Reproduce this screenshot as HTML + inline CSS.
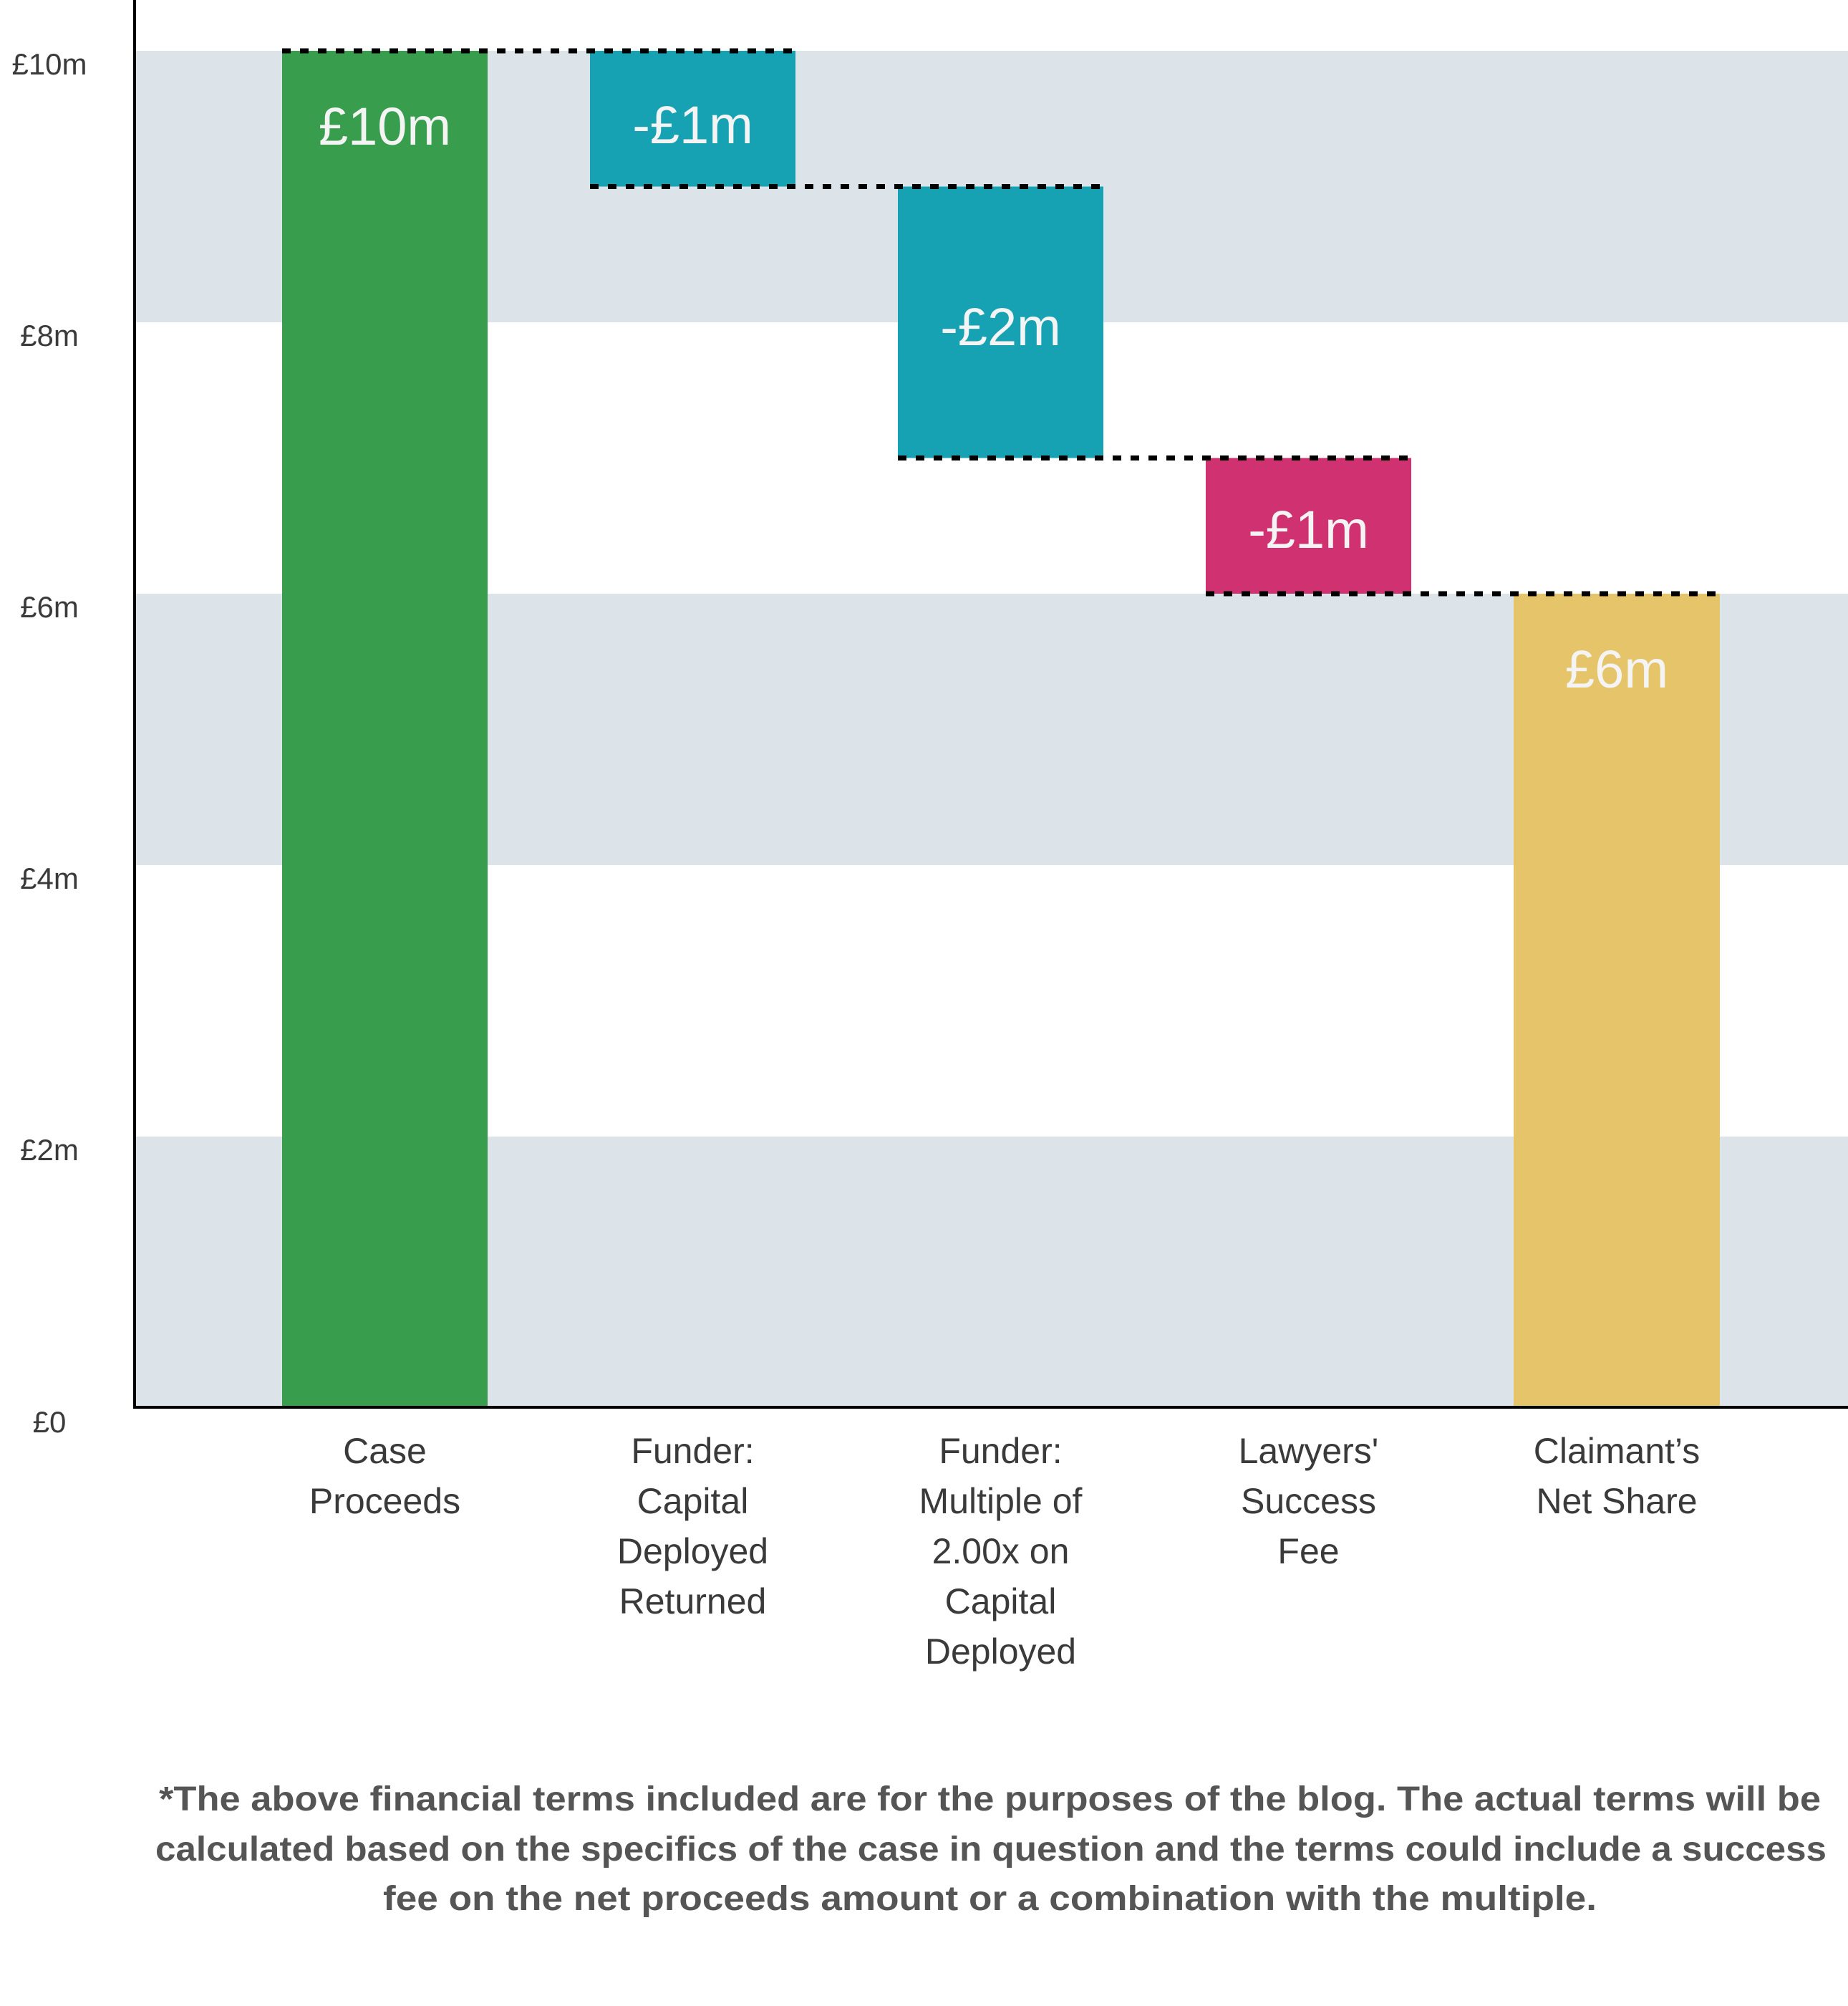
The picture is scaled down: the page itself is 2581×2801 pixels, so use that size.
<!DOCTYPE html>
<html><head><meta charset="utf-8"><style>
html,body{margin:0;padding:0;background:#fff;}
svg{display:block;}
text{font-family:"Liberation Sans",sans-serif;}
</style></head><body>
<svg width="2581" height="2801" viewBox="0 0 2581 2801" xmlns="http://www.w3.org/2000/svg">
<rect x="0" y="0" width="2581" height="2801" fill="#fff"/>
<rect x="188" y="71" width="2393" height="379" fill="#dce3e9"/>
<rect x="188" y="829" width="2393" height="379" fill="#dce3e9"/>
<rect x="188" y="1587" width="2393" height="379" fill="#dce3e9"/>
<rect x="394" y="71" width="287" height="1895" fill="#389e4d"/>
<rect x="824" y="71" width="287" height="189.5" fill="#16a2b2"/>
<rect x="1254" y="260.5" width="287" height="379" fill="#16a2b2"/>
<rect x="1684" y="639.5" width="287" height="189.5" fill="#d03170"/>
<rect x="2114" y="829" width="288" height="1137" fill="#e6c46a"/>
<g stroke="#000" stroke-width="7" stroke-dasharray="12 13">
<line x1="394" y1="71" x2="1111" y2="71"/>
<line x1="824" y1="260.5" x2="1541" y2="260.5"/>
<line x1="1254" y1="639.5" x2="1971" y2="639.5"/>
<line x1="1684" y1="829" x2="2402" y2="829"/>
</g>
<line x1="188" y1="0" x2="188" y2="1966" stroke="#000" stroke-width="4"/>
<line x1="186" y1="1965" x2="2581" y2="1965" stroke="#000" stroke-width="4"/>
<g fill="#3a3a3a" font-size="42" text-anchor="middle">
<text x="69" y="104">£10m</text>
<text x="69" y="483">£8m</text>
<text x="69" y="862">£6m</text>
<text x="69" y="1241">£4m</text>
<text x="69" y="1620">£2m</text>
<text x="69" y="2000">£0</text>
</g>
<g fill="#f4f4f4" font-size="74" text-anchor="middle">
<text x="537.5" y="202">£10m</text>
<text x="967.5" y="200">-£1m</text>
<text x="1397.5" y="482">-£2m</text>
<text x="1827.5" y="765">-£1m</text>
<text x="2258" y="960">£6m</text>
</g>
<g fill="#3a3a3a" font-size="50" text-anchor="middle">
<text x="537.5" y="2043">Case</text>
<text x="537.5" y="2113">Proceeds</text>
<text x="967.5" y="2043">Funder:</text>
<text x="967.5" y="2113">Capital</text>
<text x="967.5" y="2183">Deployed</text>
<text x="967.5" y="2253">Returned</text>
<text x="1397.5" y="2043">Funder:</text>
<text x="1397.5" y="2113">Multiple of</text>
<text x="1397.5" y="2183">2.00x on</text>
<text x="1397.5" y="2253">Capital</text>
<text x="1397.5" y="2323">Deployed</text>
<text x="1827.5" y="2043">Lawyers'</text>
<text x="1827.5" y="2113">Success</text>
<text x="1827.5" y="2183">Fee</text>
<text x="2258" y="2043">Claimant’s</text>
<text x="2258" y="2113">Net Share</text>
</g>
<g fill="#555" font-size="48" font-weight="bold">
<text x="222" y="2528" textLength="2321" lengthAdjust="spacingAndGlyphs">*The above financial terms included are for the purposes of the blog. The actual terms will be</text>
<text x="217" y="2598" textLength="2334" lengthAdjust="spacingAndGlyphs">calculated based on the specifics of the case in question and the terms could include a success</text>
<text x="535" y="2667" textLength="1695" lengthAdjust="spacingAndGlyphs">fee on the net proceeds amount or a combination with the multiple.</text>
</g>
</svg>
</body></html>
